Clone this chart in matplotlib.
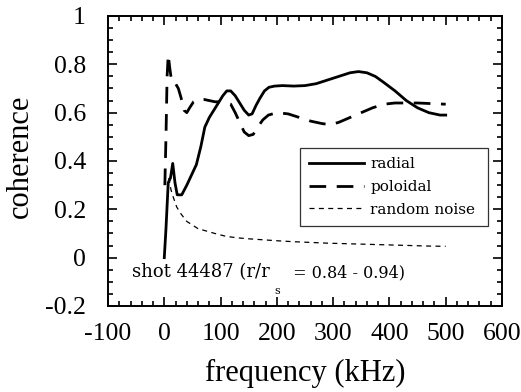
import matplotlib.pyplot as plt
from matplotlib.ticker import MultipleLocator

plt.rcParams['font.family'] = ['Liberation Serif', 'DejaVu Serif']
plt.rcParams['axes.unicode_minus'] = False

# radial coherence (solid)
radial_f = [0, 3, 7, 11, 15, 19, 23, 31, 40, 48, 57, 65, 72, 80, 88, 96, 104,
            111, 118, 126, 134, 142, 150, 156, 163, 170, 178, 186, 196, 210,
            230, 250, 270, 290, 310, 330, 345, 360, 375, 390, 410, 430, 450,
            470, 490, 500]
radial_c = [0, 0.12, 0.31, 0.33, 0.39, 0.31, 0.26, 0.26, 0.30, 0.34, 0.385,
            0.46, 0.54, 0.58, 0.61, 0.64, 0.67, 0.69, 0.69, 0.67, 0.64, 0.61,
            0.59, 0.595, 0.63, 0.66, 0.69, 0.705, 0.71, 0.712, 0.71, 0.712,
            0.72, 0.735, 0.75, 0.765, 0.77, 0.765, 0.75, 0.725, 0.69, 0.65,
            0.62, 0.60, 0.59, 0.59]

# poloidal coherence (long dashes)
poloidal_f = [1, 3, 5, 7, 10, 13, 16, 20, 25, 30, 35, 40, 45, 52, 60, 70, 80,
              90, 100, 110, 118, 126, 134, 142, 150, 158, 166, 175, 185, 200,
              220, 240, 260, 280, 295, 310, 330, 350, 370, 390, 410, 430, 450,
              470, 490, 500]
poloidal_c = [0.3, 0.5, 0.75, 0.84, 0.78, 0.73, 0.72, 0.72, 0.70, 0.66, 0.61,
              0.60, 0.62, 0.645, 0.655, 0.655, 0.65, 0.645, 0.645, 0.64, 0.635,
              0.60, 0.56, 0.52, 0.505, 0.51, 0.54, 0.57, 0.59, 0.60, 0.595,
              0.58, 0.565, 0.555, 0.55, 0.56, 0.58, 0.60, 0.62, 0.635, 0.64,
              0.64, 0.64, 0.638, 0.636, 0.635]

# random noise level (short dashes)
noise_f = [8, 12, 16, 22, 30, 40, 50, 60, 75, 90, 110, 130, 150, 175, 200,
           230, 260, 290, 320, 350, 380, 410, 440, 470, 500]
noise_c = [0.33, 0.28, 0.25, 0.21, 0.18, 0.15, 0.135, 0.12, 0.11, 0.10,
           0.088, 0.082, 0.078, 0.074, 0.07, 0.066, 0.063, 0.06, 0.058,
           0.056, 0.054, 0.052, 0.05, 0.048, 0.047]

y_ticks = [-0.2, 0, 0.2, 0.4, 0.6, 0.8, 1]
y_tick_labels = ['-0.2', '0', '0.2', '0.4', '0.6', '0.8', '1']

fig = plt.figure(figsize=(5.21, 3.92), dpi=100)
ax = fig.add_axes([0.2073, 0.2194, 0.7562, 0.7398])

ax.plot(radial_f, radial_c, color='black', lw=2.0, label='radial')
ax.plot(poloidal_f, poloidal_c, color='black', lw=2.0, dashes=(6, 3.8),
        label='poloidal')
ax.plot(noise_f, noise_c, color='black', lw=0.9, dashes=(4, 3.5),
        label='random noise')

ax.set_xlim(-100, 600)
ax.set_ylim(-0.2, 1)
ax.xaxis.set_major_locator(MultipleLocator(100))
ax.xaxis.set_minor_locator(MultipleLocator(20))
ax.yaxis.set_minor_locator(MultipleLocator(0.05))
ax.set_yticks(y_ticks)
ax.set_yticklabels(y_tick_labels)

# ticks inside on every side
ax.tick_params(which='both', direction='in', top=True, right=True,
               labelsize=18.5, width=1.2)
ax.tick_params(which='major', length=6.5)
ax.tick_params(which='minor', length=3.5)
ax.tick_params(axis='x', which='major', pad=12)
ax.tick_params(axis='y', which='major', pad=16)
for sp in ax.spines.values():
    sp.set_linewidth(1.4)

ax.set_xlabel('frequency (kHz)', fontsize=22, labelpad=10)
ax.set_ylabel('coherence', fontsize=22, labelpad=7)
ax.yaxis.label.set_y(0.517)

leg = ax.legend(loc='upper left', bbox_to_anchor=(0.487, 0.269, 0.477, 0.276),
                mode='expand', frameon=True, fancybox=False,
                prop={'family': 'DejaVu Serif', 'size': 11},
                edgecolor='black', handlelength=3.6, handletextpad=0.4,
                borderpad=0.6, labelspacing=0.58, borderaxespad=0)
leg.get_frame().set_linewidth(0.9)

# annotation, subscript drawn as its own piece (sits well below the line)
t1 = ax.text(0.061, 0.086, 'shot 44487 (r/r', transform=ax.transAxes,
             family='DejaVu Serif', fontsize=13, va='bottom')
ax.annotate('s', xy=(1, 0), xycoords=t1, xytext=(3, -9),
            textcoords='offset points', family='DejaVu Serif', fontsize=8,
            va='baseline')
ax.annotate(' = 0.84 - 0.94)', xy=(1, 0), xycoords=t1, xytext=(13, 0),
            textcoords='offset points', family='DejaVu Serif', fontsize=11.5,
            va='bottom')

fig.savefig('out.png', dpi=100)
